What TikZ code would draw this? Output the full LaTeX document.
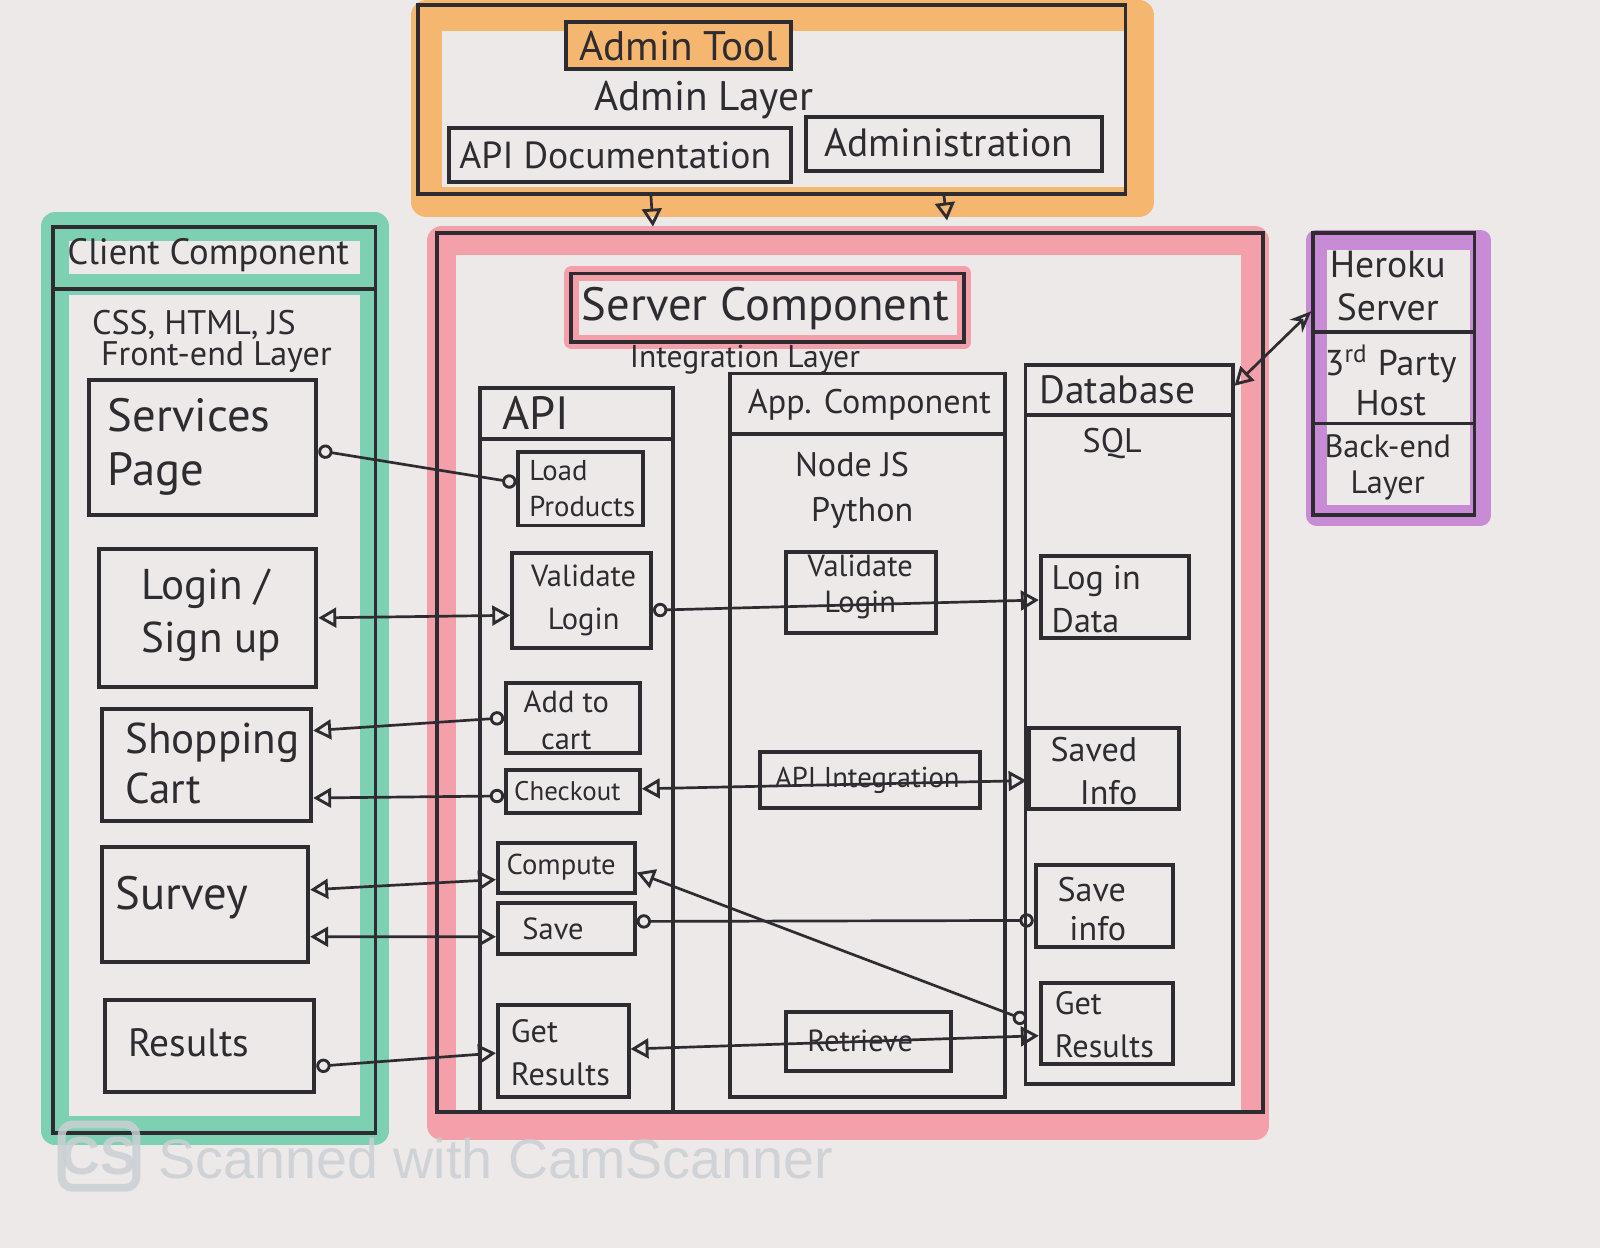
\documentclass[tikz,border=0pt]{standalone}
\usepackage{fontspec}
\setmainfont{PT Sans}
\newfontfamily\wmfont{Liberation Sans}
\usetikzlibrary{fit,arrows.meta}

\definecolor{paper}{RGB}{236,233,232}
\definecolor{ink}{RGB}{46,44,48}
\definecolor{hlorange}{RGB}{245,183,112}
\definecolor{hlpink}{RGB}{244,160,170}
\definecolor{hlgreen}{RGB}{125,208,178}
\definecolor{hlpurple}{RGB}{200,140,215}
\definecolor{wmark}{RGB}{202,207,212}

\newcommand\fsz[2]{\fontsize{#1}{#2}\selectfont}

\tikzset{
  pen/.style={draw=ink, line width=1.1pt},
  box/.style={pen, inner sep=0pt},
  txt/.style={text=ink, inner sep=0pt, align=center},
  conn/.style={draw=ink, line width=0.75pt},
  otri/.tip={Triangle[open, length=5pt, width=5.5pt, line width=0.8pt]},
  ocirc/.tip={Circle[open, length=4pt, line width=0.8pt]},
  marker/.style={line width=#1, line join=round},
}

\begin{document}
\begin{tikzpicture}[x=0.01cm, y=-0.01cm]
% paper
\fill[paper] (0,0) rectangle (1568,1223);
\useasboundingbox (0,0) rectangle (1568,1223);

% highlighter bands
\draw[hlorange, marker=8.5pt] (418,15) rectangle (1116,198);
\draw[hlpink, marker=8pt] (433,236) rectangle (1230,1103);
\draw[hlpink, marker=4pt] (560,268) rectangle (945,335);
\draw[hlgreen, marker=8pt] (54,222) rectangle (367,1108);
\draw[hlgreen, marker=6pt] (54,279) -- (367,279);
\draw[hlpurple, marker=5.7pt] (1290,235) rectangle (1451,505);

% ---------- admin layer ----------
\node[box, fit={(410,5)(1103,190)}] (admin) {};
\node[box, fill=hlorange, fit={(555,22)(775,68)}] (admintool) {};
\node[txt, font=\fsz{11.5}{14}] (admintool-t) at (665,45) {Admin Tool};
\node[txt, font=\fsz{11.5}{14}] (adminlayer) at (690,98) {Admin Layer};
\node[box, fit={(440,125)(775,178)}] (apidoc) {};
\node[txt, font=\fsz{10.5}{12}] (apidoc-t) at (603,152) {API Documentation};
\node[box, fit={(790,115)(1080,168)}] (administration) {};
\node[txt, font=\fsz{11}{13}] (administration-t) at (930,140) {Administration};

% ---------- client component ----------
\node[box, fit={(52,222)(368,1110)}] (client) {};
\node[box, fit={(52,222)(368,283)}] (client-head) {};
\node[txt, font=\fsz{10.2}{12}] (client-t) at (204,250) {Client Component};
\node[txt, font=\fsz{9.5}{11}] (client-tech) at (190,318) {CSS, HTML, JS};
\node[txt, font=\fsz{9.5}{11}] (client-layer) at (212,350) {Front-end Layer};

\node[box, fit={(87,372)(310,505)}] (services) {};
\node[txt, font=\fsz{13}{15}, align=left, anchor=west] (services-t) at (105,438) {Services\\Page};
\node[box, fit={(97,538)(310,673)}] (login) {};
\node[txt, font=\fsz{12}{15}, align=left, anchor=west] (login-t) at (138,603) {Login /\\Sign up};
\node[box, fit={(100,695)(305,805)}] (cart) {};
\node[txt, font=\fsz{12}{14}, align=left, anchor=west] (cart-t) at (122,748) {Shopping\\Cart};
\node[box, fit={(100,830)(302,943)}] (survey) {};
\node[txt, font=\fsz{13}{15}] (survey-t) at (178,880) {Survey};
\node[box, fit={(103,980)(308,1070)}] (results) {};
\node[txt, font=\fsz{11}{13}, anchor=west] (results-t) at (125,1022) {Results};

% ---------- server component ----------
\node[box, fit={(428,228)(1238,1090)}] (server) {};
\node[box, fit={(560,268)(945,335)}] (server-head) {};
\node[txt, font=\fsz{13}{15}] (server-t) at (750,302) {Server Component};
\node[txt, font=\fsz{8.8}{11}] (integration) at (730,352) {Integration Layer};

% API column
\node[box, fit={(470,380)(660,1090)}] (api) {};
\node[box, fit={(470,380)(660,430)}] (api-head) {};
\node[txt, font=\fsz{13}{15}] (api-t) at (525,405) {API};
\node[box, fit={(508,443)(630,515)}] (loadp) {};
\node[txt, font=\fsz{8}{10}, align=left, anchor=west] (loadp-t) at (518,479) {Load\\Products};
\node[box, fit={(502,542)(638,635)}] (vlogin) {};
\node[txt, font=\fsz{8.5}{12}] (vlogin-t) at (572,588) {Validate\\Login};
\node[box, fit={(496,669)(627,738)}] (addcart) {};
\node[txt, font=\fsz{8.5}{10.5}] (addcart-t) at (555,706) {Add to\\cart};
\node[box, fit={(496,755)(627,797)}] (checkout) {};
\node[txt, font=\fsz{7.5}{9}] (checkout-t) at (556,775) {Checkout};
\node[box, fit={(488,826)(622,875)}] (compute) {};
\node[txt, font=\fsz{8}{10}] (compute-t) at (550,850) {Compute};
\node[box, fit={(488,885)(622,935)}] (save) {};
\node[txt, font=\fsz{8.5}{10}] (save-t) at (542,910) {Save};
\node[box, fit={(488,985)(616,1075)}] (apigetres) {};
\node[txt, font=\fsz{9}{12}, align=left, anchor=west] (apigetres-t) at (500,1032) {Get\\Results};

% App. Component column
\node[box, fit={(715,366)(985,1075)}] (app) {};
\node[box, fit={(715,366)(985,425)}] (app-head) {};
\node[txt, font=\fsz{9.5}{12}] (app-t) at (852,397) {App. Component};
\node[txt, font=\fsz{9.5}{11}] (nodejs) at (835,455) {Node JS};
\node[txt, font=\fsz{9.5}{11}] (python) at (845,503) {Python};
\node[box, fit={(770,541)(917,620)}] (appvlogin) {};
\node[txt, font=\fsz{8.5}{10}] (appvlogin-t) at (843,575) {Validate\\Login};
\node[box, fit={(745,737)(960,792)}] (apiint) {};
\node[txt, font=\fsz{8}{10}] (apiint-t) at (850,765) {API Integration};
\node[box, fit={(770,992)(932,1050)}] (retrieve) {};
\node[txt, font=\fsz{8.5}{10}] (retrieve-t) at (843,1020) {Retrieve};

% Database column
\node[box, fit={(1005,358)(1208,1062)}] (db) {};
\node[box, fit={(1005,358)(1208,407)}] (db-head) {};
\node[txt, font=\fsz{11}{13}] (db-t) at (1095,382) {Database};
\node[txt, font=\fsz{9.5}{11}] (sql) at (1090,435) {SQL};
\node[box, fit={(1020,545)(1165,625)}] (logindata) {};
\node[txt, font=\fsz{9.5}{12}, align=left, anchor=west] (logindata-t) at (1030,587) {Log in\\Data};
\node[box, fit={(1008,713)(1155,793)}] (savedinfo) {};
\node[txt, font=\fsz{9.5}{12}, align=right] (savedinfo-t) at (1072,756) {Saved\\Info};
\node[box, fit={(1015,848)(1150,928)}] (saveinfo) {};
\node[txt, font=\fsz{9.5}{11}, align=right] (saveinfo-t) at (1070,891) {Save\\info};
\node[box, fit={(1020,963)(1150,1043)}] (dbgetres) {};
\node[txt, font=\fsz{9}{12}, align=left, anchor=west] (dbgetres-t) at (1033,1004) {Get\\Results};

% ---------- heroku ----------
\node[box, fit={(1287,228)(1445,505)}] (heroku) {};
\node[box, fit={(1287,228)(1445,325)}] (heroku-top) {};
\node[box, fit={(1287,325)(1445,415)}] (heroku-mid) {};
\node[txt, font=\fsz{10.5}{12}] (heroku-t) at (1360,280) {Heroku\\Server};
\node[txt, font=\fsz{10}{11}] (thirdparty-t) at (1363,373) {3\textsuperscript{rd} Party\\Host};
\node[txt, font=\fsz{9}{10}] (backend-t) at (1360,458) {Back-end\\Layer};

% ---------- connectors ----------
\draw[conn, -{otri}] ([xshift=-1.185cm]admin.south) -- ([xshift=-1.93cm, yshift=0.04cm]server.north);
\draw[conn, -{otri}] ([xshift=1.685cm]admin.south) -- ([xshift=0.95cm, yshift=0.1cm]server.north);

\draw[conn, {ocirc}-{ocirc}] ([yshift=-0.03cm]services.east) -- ([yshift=0.06cm]loadp.west);
\draw[conn, {otri}-{otri}] (login.east) -- ([yshift=-0.145cm]vlogin.west);
\draw[conn, {ocirc}-{otri}] ([yshift=-0.095cm]vlogin.east) -- ([yshift=-0.03cm]logindata.west);
\draw[conn, {otri}-{ocirc}] ([yshift=0.34cm]cart.east) -- (addcart.west);
\draw[conn, {otri}-{ocirc}] ([yshift=-0.32cm]cart.east) -- ([yshift=-0.04cm]checkout.west);
\draw[conn, {otri}-{otri}] ([yshift=0.03cm]checkout.east) -- ([yshift=-0.12cm]savedinfo.west);
\draw[conn, {otri}-{otri}] ([yshift=0.145cm]survey.east) -- ([yshift=-0.115cm]compute.west);
\draw[conn, {otri}-{otri}] ([yshift=-0.315cm]survey.east) -- ([yshift=-0.08cm]save.west);
\draw[conn, {otri}-{ocirc}] ([yshift=-0.045cm]compute.east) -- ([xshift=-0.12cm, yshift=0.03cm]dbgetres.west);
\draw[conn, {ocirc}-{ocirc}] ([yshift=0.07cm]save.east) -- ([yshift=-0.14cm]saveinfo.west);
\draw[conn, {ocirc}-{otri}] ([yshift=-0.2cm]results.east) -- ([yshift=-0.02cm]apigetres.west);
\draw[conn, {otri}-{otri}] ([yshift=0.02cm]apigetres.east) -- ([yshift=-0.12cm]dbgetres.west);
\draw[conn, {otri}-{Stealth[open, length=6pt, width=5pt]}] ([yshift=0.045cm]db-head.east) -- ([yshift=-0.285cm]heroku-top.west);

% ---------- scanner watermark ----------
\node[draw=wmark, line width=2.2pt, rounded corners=3pt, minimum width=0.66cm, minimum height=0.62cm,
      inner sep=0pt, text=wmark, font=\wmfont\bfseries\fsz{15}{17}, opacity=0.85] (wm-logo) at (97,1133) {CS};
\node[text=wmark, font=\wmfont\fsz{15.5}{18}, anchor=west, inner sep=0pt, opacity=0.85] (wm-text) at (155,1135) {Scanned with CamScanner};
\end{tikzpicture}
\end{document}
